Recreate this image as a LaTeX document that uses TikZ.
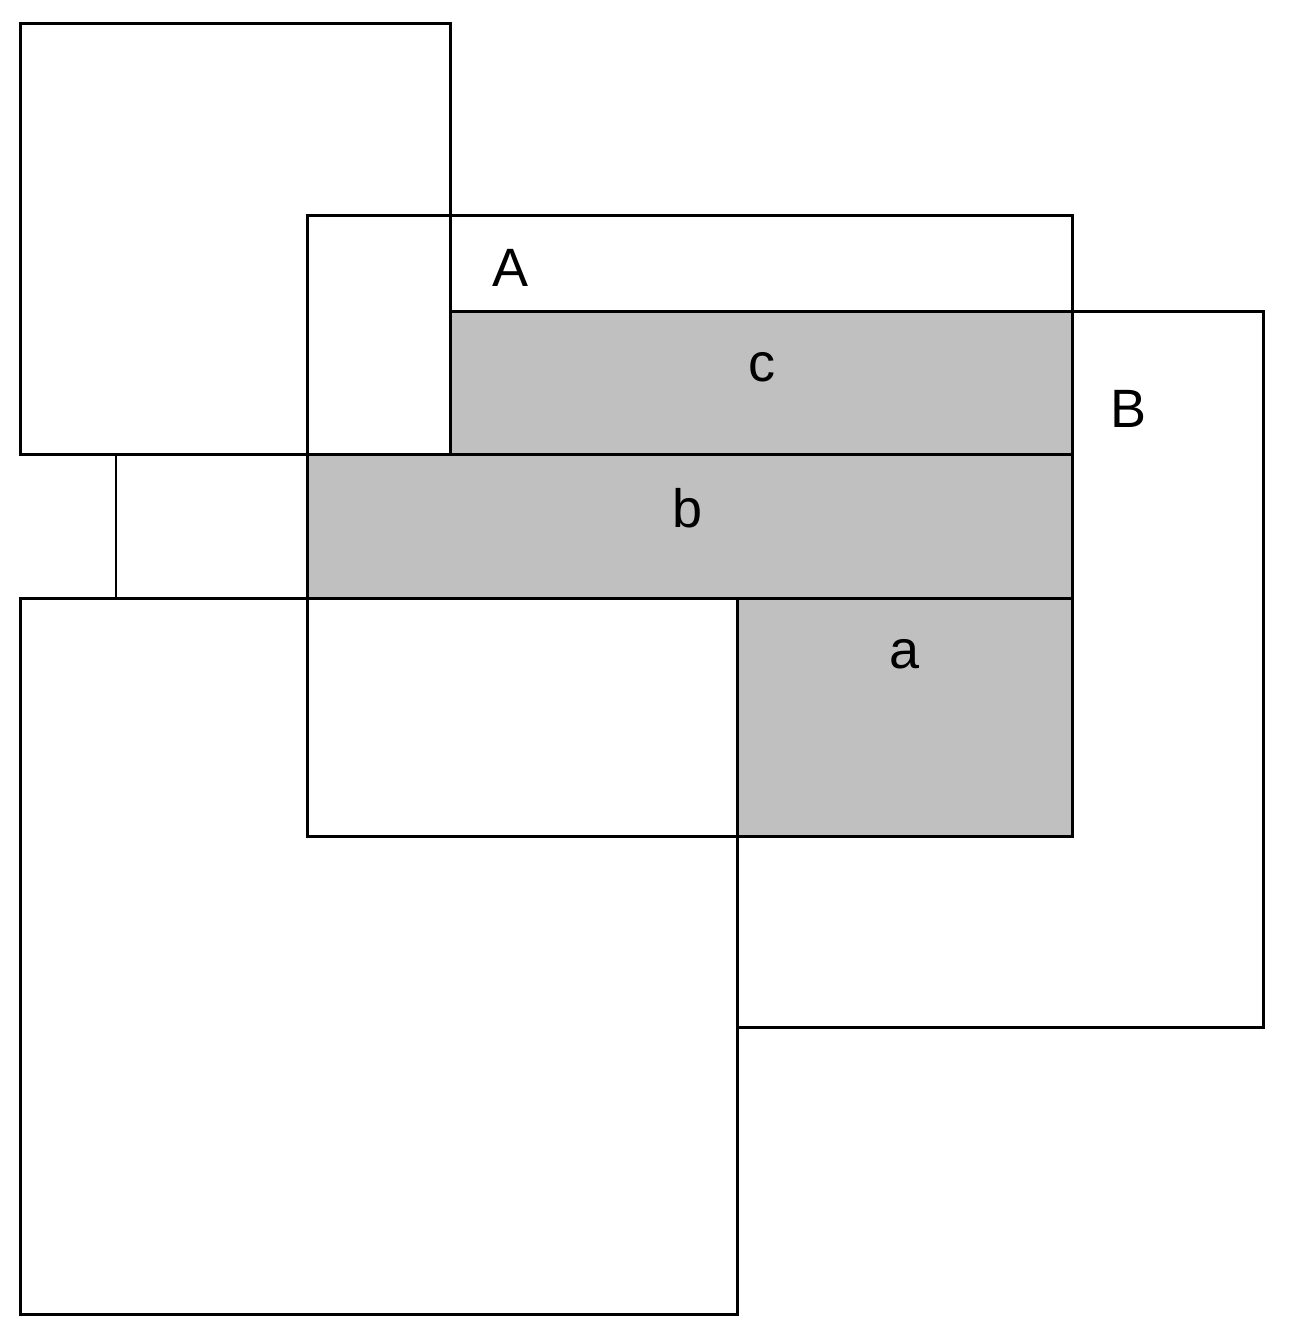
\documentclass[tikz,border=0pt]{standalone}
\usepackage{fontspec}
\setmainfont{Liberation Sans}
\definecolor{shade}{HTML}{C0C0C0}
\begin{document}
\begin{tikzpicture}[x=1pt,y=-1pt,
  edge/.style={draw=black,line width=3pt,line cap=rect},
  thin edge/.style={draw=black,line width=2pt},
  shaded/.style={fill=shade},
  lbl/.style={inner sep=0pt,font=\fontsize{54}{54}\selectfont}]
\useasboundingbox (0,0) rectangle (1288,1338);
% shaded regions
\fill[shaded] (450,311) rectangle (1072,454);
\fill[shaded] (307,454) rectangle (1072,598);
\fill[shaded] (737,598) rectangle (1072,836);
% outlines
\draw[edge] (20,24) rectangle (450,454);
\draw[edge] (307,215) rectangle (1072,836);
\draw[edge] (20,598) rectangle (737,1314);
\draw[edge] (450,311) -- (1263,311) -- (1263,1027) -- (737,1027);
\draw[edge] (450,454) -- (1072,454);
\draw[edge] (737,598) -- (1072,598);
\draw[thin edge] (116,454) -- (116,598);
% labels
\node[lbl] (lA) at (511,268) {A};
\node[lbl] (lB) at (1128,409) {B};
\node[lbl] (lc) at (762,367) {c};
\node[lbl] (lb) at (688,508) {b};
\node[lbl] (la) at (905,654) {a};
\end{tikzpicture}
\end{document}
